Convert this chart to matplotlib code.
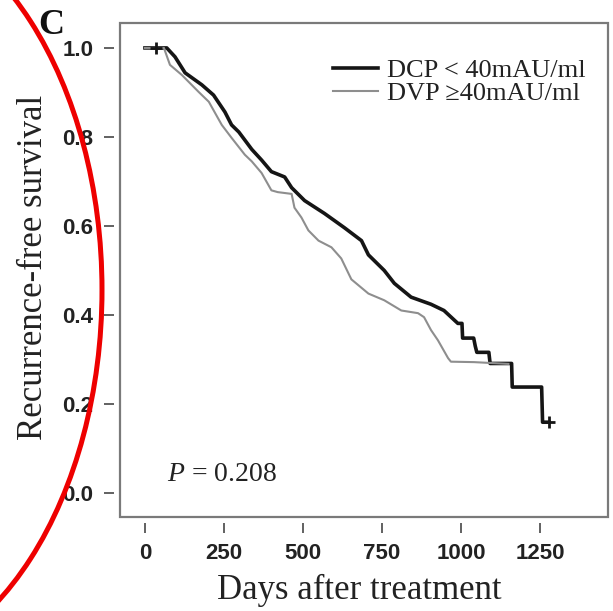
import matplotlib
matplotlib.use('Agg')
import matplotlib.pyplot as plt
from matplotlib.patches import Ellipse, Rectangle

# Kaplan-Meier curves (days, survival)
low_days = [0, 69, 95, 127, 180, 217, 253, 274, 297, 338, 369, 400, 442, 464, 505,
            568, 631, 685, 707, 757, 789, 842, 905, 946, 990, 1003, 1005, 1040, 1045,
            1050, 1088, 1092, 1160, 1162, 1255, 1258, 1278]
low_surv = [1.0, 1.0, 0.98, 0.944, 0.917, 0.894, 0.856, 0.827, 0.811, 0.772, 0.748,
            0.722, 0.71, 0.686, 0.657, 0.628, 0.596, 0.567, 0.535, 0.5, 0.471, 0.44,
            0.424, 0.41, 0.381, 0.381, 0.348, 0.348, 0.33, 0.316, 0.316, 0.291, 0.291,
            0.238, 0.238, 0.159, 0.159]

high_days = [0, 60, 79, 117, 170, 202, 243, 274, 316, 338, 369, 400, 420, 464, 473,
             495, 517, 549, 590, 621, 653, 707, 757, 811, 864, 883, 905, 927, 959,
             968, 1041, 1150]
high_surv = [1.0, 1.0, 0.962, 0.939, 0.901, 0.879, 0.827, 0.798, 0.76, 0.745, 0.719,
             0.68, 0.676, 0.672, 0.641, 0.619, 0.59, 0.567, 0.552, 0.527, 0.48, 0.448,
             0.433, 0.41, 0.404, 0.395, 0.366, 0.343, 0.303, 0.295, 0.294, 0.29]

labels = ['DCP < 40mAU/ml', 'DVP \u226540mAU/ml']
x_ticks = [0, 250, 500, 750, 1000, 1250]
y_ticks = [0.0, 0.2, 0.4, 0.6, 0.8, 1.0]
p_text = '$P$ = 0.208'

plt.rcParams['mathtext.fontset'] = 'custom'
plt.rcParams['mathtext.rm'] = 'Liberation Serif'
plt.rcParams['mathtext.it'] = 'Liberation Serif:italic'

serif = ['Liberation Serif', 'DejaVu Serif']

fig = plt.figure(figsize=(6.13, 6.11), dpi=100)
ax = fig.add_axes([120 / 613, 1 - 517 / 611, 488 / 613, 494 / 611])

ax.plot(low_days, low_surv, color='#151515', lw=2.6, label=labels[0])
ax.plot(high_days, high_surv, color='#8e8e8e', lw=1.5, label=labels[1])
ax.plot([35], [1.0], marker='+', color='#151515', ms=8, mew=2)
ax.plot([low_days[-1]], [low_surv[-1]], marker='+', color='#151515', ms=8, mew=2)

ax.set_xlim(-79, 1465)
ax.set_ylim(-0.054, 1.056)
ax.set_xticks(x_ticks)
ax.set_yticks(y_ticks)
ax.set_yticklabels([f'{v:.1f}' for v in y_ticks])

# R-style axes: ticks sit a little away from the box
for side in ['left', 'bottom']:
    ax.spines[side].set_position(('outward', 4))
    ax.spines[side].set_visible(False)
for side in ['top', 'right']:
    ax.spines[side].set_visible(False)
ax.add_patch(Rectangle((0, 0), 1, 1, transform=ax.transAxes, fill=False,
                       edgecolor='#7a7a7a', lw=1.6, clip_on=False))
ax.tick_params(direction='out', length=7, width=1.3, color='#555555',
               labelsize=16, pad=8, labelcolor='#222222')
for lab in ax.get_xticklabels() + ax.get_yticklabels():
    lab.set_fontfamily('Liberation Sans')
    lab.set_fontweight('bold')

leg = ax.legend(loc='upper left', bbox_to_anchor=(0.41, 0.955), frameon=False,
                prop={'family': serif, 'size': 19}, handlelength=1.7,
                handletextpad=0.35, labelspacing=0.0, borderpad=0)
for t in leg.get_texts():
    t.set_color('#222222')

ax.text(0.096, 0.087, p_text, transform=ax.transAxes, fontsize=20,
        family='Liberation Serif', va='center', ha='left', color='#222222')

fig.text(34 / 613, 1 - 267 / 611, 'Recurrence-free survival', rotation=90,
         fontsize=25, family='Liberation Serif', ha='center', va='center',
         color='#222222')
fig.text(359 / 613, 1 - 590 / 611, 'Days after treatment', fontsize=25,
         family='Liberation Serif', ha='center', va='center', color='#222222')
fig.text(38 / 613, 1 - 26 / 611, 'C', fontsize=26, family='Liberation Serif',
         fontweight='bold', ha='left', va='center', color='#111111')

# red circle drawn over the figure
fig.add_artist(Ellipse((-142 / 613, 1 - 290 / 611), 2 * 244 / 613, 2 * 380 / 611,
                       transform=fig.transFigure, fill=False, edgecolor='#ee0000',
                       lw=3.6))

fig.savefig('out.png', dpi=100)
